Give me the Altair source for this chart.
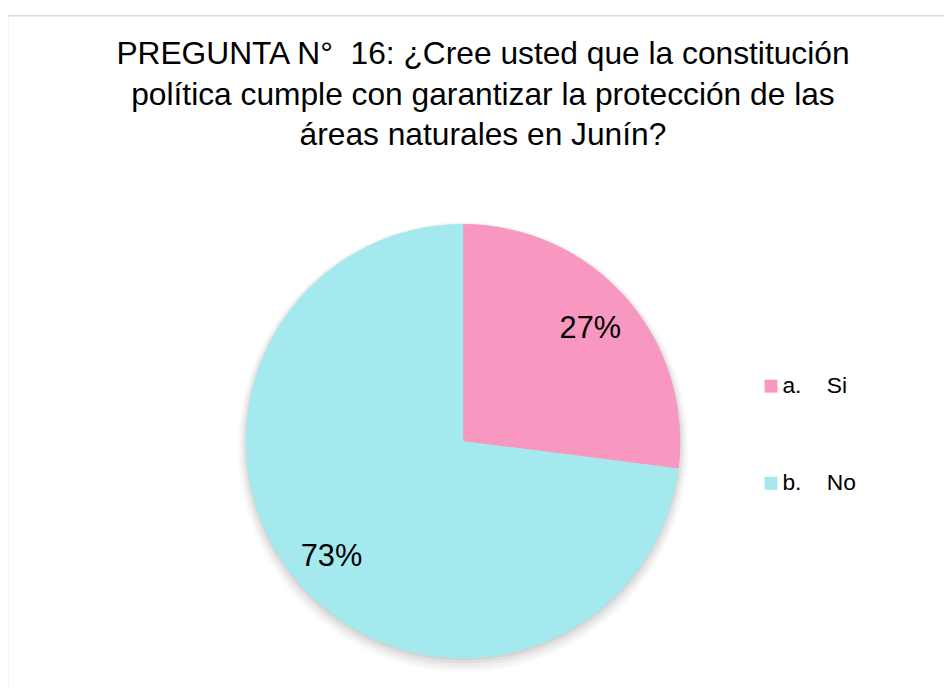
import altair as alt
import pandas as pd

categories = ["a.", "b."]
names = ["Si", "No"]
values = [27, 73]
labels = ["27%", "73%"]
colors = ["#F898C1", "#A3E9EE"]
title_lines = [
    "PREGUNTA N°\u00a0\u00a016: ¿Cree usted que la constitución",
    "política cumple con garantizar la protección de las",
    "áreas naturales en Junín?",
]

df = pd.DataFrame({
    "cat": categories,
    "name": names,
    "value": values,
    "label": labels,
    "order": [0, 1],
    "lrad": [171, 177],
})
df["legend"] = [c + "\u00a0" * 4 + n for c, n in zip(categories, names)]
df["mid"] = df["value"].cumsum() - df["value"] / 2
total = float(df["value"].sum())

FONT = "Liberation Sans"
CX, CY, R = 459, 434, 219

color_scale = alt.Scale(domain=df["legend"].tolist(), range=colors)

base = alt.Chart(df).encode(
    theta=alt.Theta("value:Q", stack=True),
    order=alt.Order("order:Q"),
)

shadows = []
for dr, dy, op in [(8, 6, 0.04), (6, 5, 0.05), (4, 4, 0.07), (2, 3, 0.09), (0, 2, 0.12)]:
    shadows.append(
        base.mark_arc(outerRadius=R + dr, color="#7a7a7a", opacity=op)
        .encode(x=alt.value(CX), y=alt.value(CY + dy))
    )

pie = base.mark_arc(outerRadius=R).encode(
    x=alt.value(CX),
    y=alt.value(CY),
    color=alt.Color(
        "legend:N",
        scale=color_scale,
        sort=None,
        legend=alt.Legend(
            title=None,
            orient="none",
            legendX=758,
            legendY=367,
            symbolType="square",
            symbolSize=169,
            symbolStrokeWidth=0,
            labelFont=FONT,
            labelFontSize=23,
            labelColor="#000000",
            labelOffset=0,
            rowPadding=74,
        ),
    ),
)

text = alt.Chart(df).mark_text(
    font=FONT, fontSize=31, color="#000000", baseline="middle", align="center"
).encode(
    theta=alt.Theta("mid:Q", stack=None, scale=alt.Scale(domain=[0, total])),
    x=alt.value(CX),
    y=alt.value(CY),
    radius=alt.Radius("lrad:Q", scale=None),
    text="label:N",
)

title = alt.Chart(pd.DataFrame({"t": [0]})).mark_text(
    text=title_lines,
    font=FONT,
    fontSize=32,
    lineHeight=40.5,
    align="center",
    baseline="middle",
    color="#000000",
).encode(x=alt.value(479), y=alt.value(44))

border = alt.Chart(pd.DataFrame({"t": [0]})).mark_rect(
    fill=None, stroke="#D9D9D9", strokeWidth=1.5
).encode(x=alt.value(-0.5), x2=alt.value(960), y=alt.value(5), y2=alt.value(700))

chart = alt.layer(border, *shadows, pie, text, title).properties(
    width=944,
    height=680,
    autosize=alt.AutoSizeParams(type="none"),
    padding=0,
).configure_view(stroke=None)

chart.save("out.html", embed_options={"renderer": "svg", "actions": False})
